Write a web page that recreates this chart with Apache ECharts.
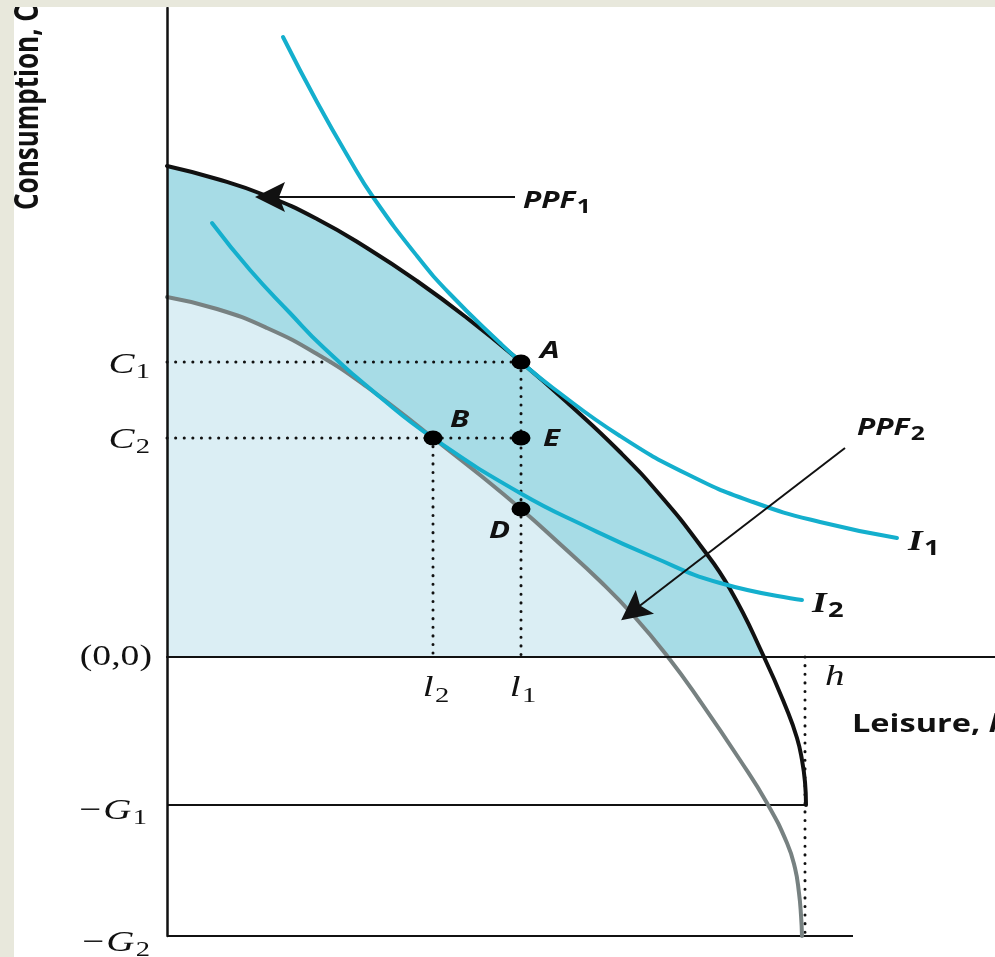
<!DOCTYPE html>
<html>
<head>
<meta charset="utf-8">
<title>PPF shift</title>
<script src="https://cdn.jsdelivr.net/npm/echarts@6.0.0/dist/echarts.min.js"></script>
<style>
  html, body { margin:0; padding:0; width:995px; height:957px; overflow:hidden; background:#e8e8dc; }
  #paper { position:absolute; left:14px; top:7px; width:981px; height:950px; background:#ffffff; }
  #chart { position:absolute; left:0; top:0; width:995px; height:957px; }
  #frameTop { position:absolute; left:0; top:0; width:995px; height:7px; background:#e8e8dc; }
  #frameLeft { position:absolute; left:0; top:0; width:14px; height:957px; background:#e8e8dc; }
</style>
</head>
<body>
<div id="paper"></div>
<div id="chart"></div>
<div id="frameTop"></div>
<div id="frameLeft"></div>
<script>
// ---------------- DATA (leisure l on x, consumption C on y; origin (0,0)) ----------------
const ppf1Leisure     = [0, 50, 100, 150, 200, 250, 300, 354, 403, 453, 493, 533, 563, 597, 620, 630, 635, 638, 639];
const ppf1Consumption = [491, 478, 461, 438, 409, 376, 339, 295, 252, 205, 162, 112, 68, 0, -53, -81, -103, -125, -148];

const ppf2Leisure     = [0, 50, 100, 150, 200, 266, 313, 354, 393, 433, 466, 501, 533, 573, 600, 620, 628, 632, 634, 635];
const ppf2Consumption = [360, 348, 329, 303, 270, 219, 182, 148, 113, 76, 42, 0, -44, -103, -146, -186, -211, -236, -258, -279];

const i1Leisure     = [116, 150, 183, 206, 250, 283, 333, 354, 386, 453, 520, 586, 653, 730];
const i1Consumption = [620, 555, 497, 460, 401, 363, 314, 295, 269, 221, 183, 155, 135, 119];

const i2Leisure     = [45, 83, 123, 156, 213, 266, 353, 420, 486, 553, 635];
const i2Consumption = [434, 387, 344, 310, 260, 219, 164, 130, 100, 74, 57];

const pointNames       = ['A', 'B', 'E', 'D'];
const pointLeisure     = [354, 266, 354, 354];
const pointConsumption = [295, 219, 219, 148];

const yTickLabels = ['C_1', 'C_2', '(0,0)', '\u2212G_1', '\u2212G_2'];
const yTickValues = [295, 219, 0, -148, -279];

const xTickLabels = ['l_2', 'l_1', 'h'];
const xTickValues = [266, 354, 638];

const g1Line = [[0, -148], [639, -148]];
const g2Line = [[0, -279], [686, -279]];

const ppf1ArrowFrom = [348, 460], ppf1ArrowTo = [103, 460];
const ppf2ArrowFrom = [678, 209], ppf2ArrowTo = [466, 46];

const curveLabels = ['PPF_1', 'PPF_2', 'I_1', 'I_2'];
const xAxisTitle = 'Leisure, l';
const yAxisTitle = 'Consumption, C';

// ---------------- STYLE ----------------
const INK = '#111111';
const CYAN = '#14afcd';
const GREY = '#778181';
const FILL_OUTER = '#a7dce6';
const FILL_INNER = '#dbeef4';
const SERIF = '"Liberation Serif", "DejaVu Serif", serif';
const SANS = '"Open Sans", "DejaVu Sans", sans-serif';
const SMOOTH = 0.5;

const pairs = (xs, ys) => xs.map((x, i) => [x, ys[i]]);
const nonNegative = (xs, ys) => pairs(xs, ys).filter(p => p[1] >= 0);

function curve(name, data, color, width, z) {
  return { type: 'line', name, data, smooth: SMOOTH, symbol: 'none', showSymbol: false, clip: false,
           silent: true, z, lineStyle: { color, width, cap: 'round', join: 'round' } };
}
function fill(name, data, color, z) {
  return { type: 'line', name, data, smooth: SMOOTH, symbol: 'none', showSymbol: false, clip: false,
           silent: true, z, lineStyle: { width: 0, opacity: 0 }, areaStyle: { color, opacity: 1 } };
}
function dotted(name, data) {
  return { type: 'line', name, data, symbol: 'none', showSymbol: false, clip: false, silent: true, z: 3,
           lineStyle: { color: INK, width: 3, type: [0.1, 8.5], cap: 'round' } };
}
function plain(name, data) {
  return { type: 'line', name, data, symbol: 'none', showSymbol: false, clip: false, silent: true, z: 3,
           lineStyle: { color: INK, width: 2 } };
}
const ARROW = 'path://M50,0 L100,100 L50,80 L0,100 Z';
function arrow(name, from, to) {
  return { type: 'lines', name, coordinateSystem: 'cartesian2d', silent: true, z: 7,
           symbol: ['none', ARROW], symbolSize: [14, 30], symbolOffset: [0, 15],
           itemStyle: { color: INK, opacity: 1 },
           lineStyle: { color: INK, width: 2, opacity: 1, curveness: 0 },
           data: [{ coords: [from, to] }] };
}

const chart = echarts.init(document.getElementById('chart'), null, { renderer: 'canvas' });

const option = {
  animation: false,
  backgroundColor: 'transparent',
  grid: { left: 167, right: 0, top: 8, bottom: 21, containLabel: false, outerBoundsMode: 'none' },
  xAxis: { type: 'value', min: 0, max: 828, z: 6,
           axisLine: { show: true, onZero: true, lineStyle: { color: INK, width: 2 } },
           axisTick: { show: false }, axisLabel: { show: false }, splitLine: { show: false } },
  yAxis: { type: 'value', min: -279, max: 649, z: 6,
           axisLine: { show: true, lineStyle: { color: INK, width: 2.5 } },
           axisTick: { show: false }, axisLabel: { show: false }, splitLine: { show: false } },
  series: [
    fill('PPF1 area', nonNegative(ppf1Leisure, ppf1Consumption), FILL_OUTER, 1),
    fill('PPF2 area', nonNegative(ppf2Leisure, ppf2Consumption), FILL_INNER, 1),
    plain('-G1', g1Line),
    plain('-G2', g2Line),
    dotted('C1 guide', [[0, pointConsumption[0]], [pointLeisure[0], pointConsumption[0]]]),
    dotted('l1 guide', [[pointLeisure[0], pointConsumption[0]], [pointLeisure[0], 0]]),
    dotted('C2 guide', [[0, pointConsumption[2]], [pointLeisure[2], pointConsumption[2]]]),
    dotted('l2 guide', [[pointLeisure[1], pointConsumption[1]], [pointLeisure[1], 0]]),
    dotted('h guide', [[xTickValues[2], 0], [xTickValues[2], yTickValues[4]]]),
    curve('PPF2', pairs(ppf2Leisure, ppf2Consumption), GREY, 4, 4),
    curve('PPF1', pairs(ppf1Leisure, ppf1Consumption), INK, 4, 5),
    curve('I1', pairs(i1Leisure, i1Consumption), CYAN, 4, 5),
    curve('I2', pairs(i2Leisure, i2Consumption), CYAN, 4, 5),
    arrow('PPF1 arrow', ppf1ArrowFrom, ppf1ArrowTo),
    arrow('PPF2 arrow', ppf2ArrowFrom, ppf2ArrowTo),
    { type: 'scatter', name: 'points', silent: true, z: 8, symbol: 'circle', symbolSize: [19, 15],
      itemStyle: { color: '#000000', opacity: 1 }, data: pairs(pointLeisure, pointConsumption) }
  ]
};
chart.setOption(option);

// ---------------- TEXT (anchored to data through the grid's scales) ----------------
const toPx = (x, y) => chart.convertToPixel({ gridIndex: 0 }, [x, y]);

function richOf(label, main, sub) {
  const k = label.indexOf('_');
  if (k < 0) return { text: '{m|' + label + '}', rich: { m: main } };
  return { text: '{m|' + label.slice(0, k) + '}{s|' + label.slice(k + 1) + '}', rich: { m: main, s: sub } };
}
function tok(font, size, padTop) {
  return { font: font, lineHeight: size, verticalAlign: 'middle', padding: [padTop || 0, 0, 0, padTop ? 1 : 0] };
}
function textEl(anchor, dx, dy, align, rt, extra) {
  const p = toPx(anchor[0], anchor[1]);
  return Object.assign({
    type: 'text', x: p[0] + dx, y: p[1] + dy, scaleX: 1.3, scaleY: 1, z: 50, silent: true,
    style: { text: rt.text, rich: rt.rich, fill: INK, textAlign: align, textVerticalAlign: 'middle' }
  }, extra || {});
}

const serifMain = tok('italic 30px ' + SERIF, 30);
const serifSub = tok('22px ' + SERIF, 22, 15);
const serifPlain = tok('29px ' + SERIF, 30);

const els = [];
const yTickOffsets = [[-17, 3], [-17, 2], [-15, 0], [-20, 6], [-17, 7]];
yTickLabels.forEach((lab, i) => {
  const main = lab.indexOf('_') < 0 ? serifPlain : serifMain;
  els.push(textEl([0, yTickValues[i]], yTickOffsets[i][0], yTickOffsets[i][1], 'right', richOf(lab, main, serifSub)));
});
const xTickOffsets = [[3, 31, 'center'], [2, 31, 'center'], [20, 20, 'left']];
xTickLabels.forEach((lab, i) => {
  els.push(textEl([xTickValues[i], 0], xTickOffsets[i][0], xTickOffsets[i][1], xTickOffsets[i][2],
                  richOf(lab, serifMain, tok('22px ' + SERIF, 22, 17))));
});

const ptFont = tok('italic bold 24px ' + SANS, 24);
const pointOffsets = [[19, -11, 'left'], [17, -18, 'left'], [22, 1, 'left'], [-11, 22, 'right']];
pointNames.forEach((n, i) => {
  els.push(textEl([pointLeisure[i], pointConsumption[i]], pointOffsets[i][0], pointOffsets[i][1], pointOffsets[i][2],
                  richOf(n, ptFont)));
});

const ppfMain = tok('italic bold 23px ' + SANS, 23);
const ppfSub = tok('bold 19px ' + SANS, 19, 14);
const iMain = tok('italic bold 29px ' + SERIF, 29);
const iSub = tok('bold 21px ' + SANS, 21, 12);
const i1End = [i1Leisure[i1Leisure.length - 1], i1Consumption[i1Consumption.length - 1]];
const i2End = [i2Leisure[i2Leisure.length - 1], i2Consumption[i2Consumption.length - 1]];
els.push(textEl(ppf1ArrowFrom, 8, 4, 'left', richOf(curveLabels[0], ppfMain, ppfSub)));
els.push(textEl(ppf2ArrowFrom, 12, -20, 'left', richOf(curveLabels[1], ppfMain, ppfSub)));
els.push(textEl(i1End, 11, 5, 'left', richOf(curveLabels[2], iMain, iSub)));
els.push(textEl(i2End, 10, 5, 'left', richOf(curveLabels[3], iMain, iSub)));

// axis titles
els.push(textEl([xTickValues[2], 0], 47, 68, 'left',
  { text: '{m|' + xAxisTitle.slice(0, -1) + '}{i|' + xAxisTitle.slice(-1) + '}',
    rich: { m: tok('bold 25px ' + SANS, 25), i: tok('italic bold 25px ' + SANS, 25) } }));
els.push(textEl([0, 447], -138, 0, 'left', richOf(yAxisTitle, tok('bold 26px ' + SANS, 26)),
  { rotation: Math.PI / 2, scaleX: 1, scaleY: 1.28 }));

chart.setOption({ graphic: { elements: els } });
</script>
</body>
</html>
